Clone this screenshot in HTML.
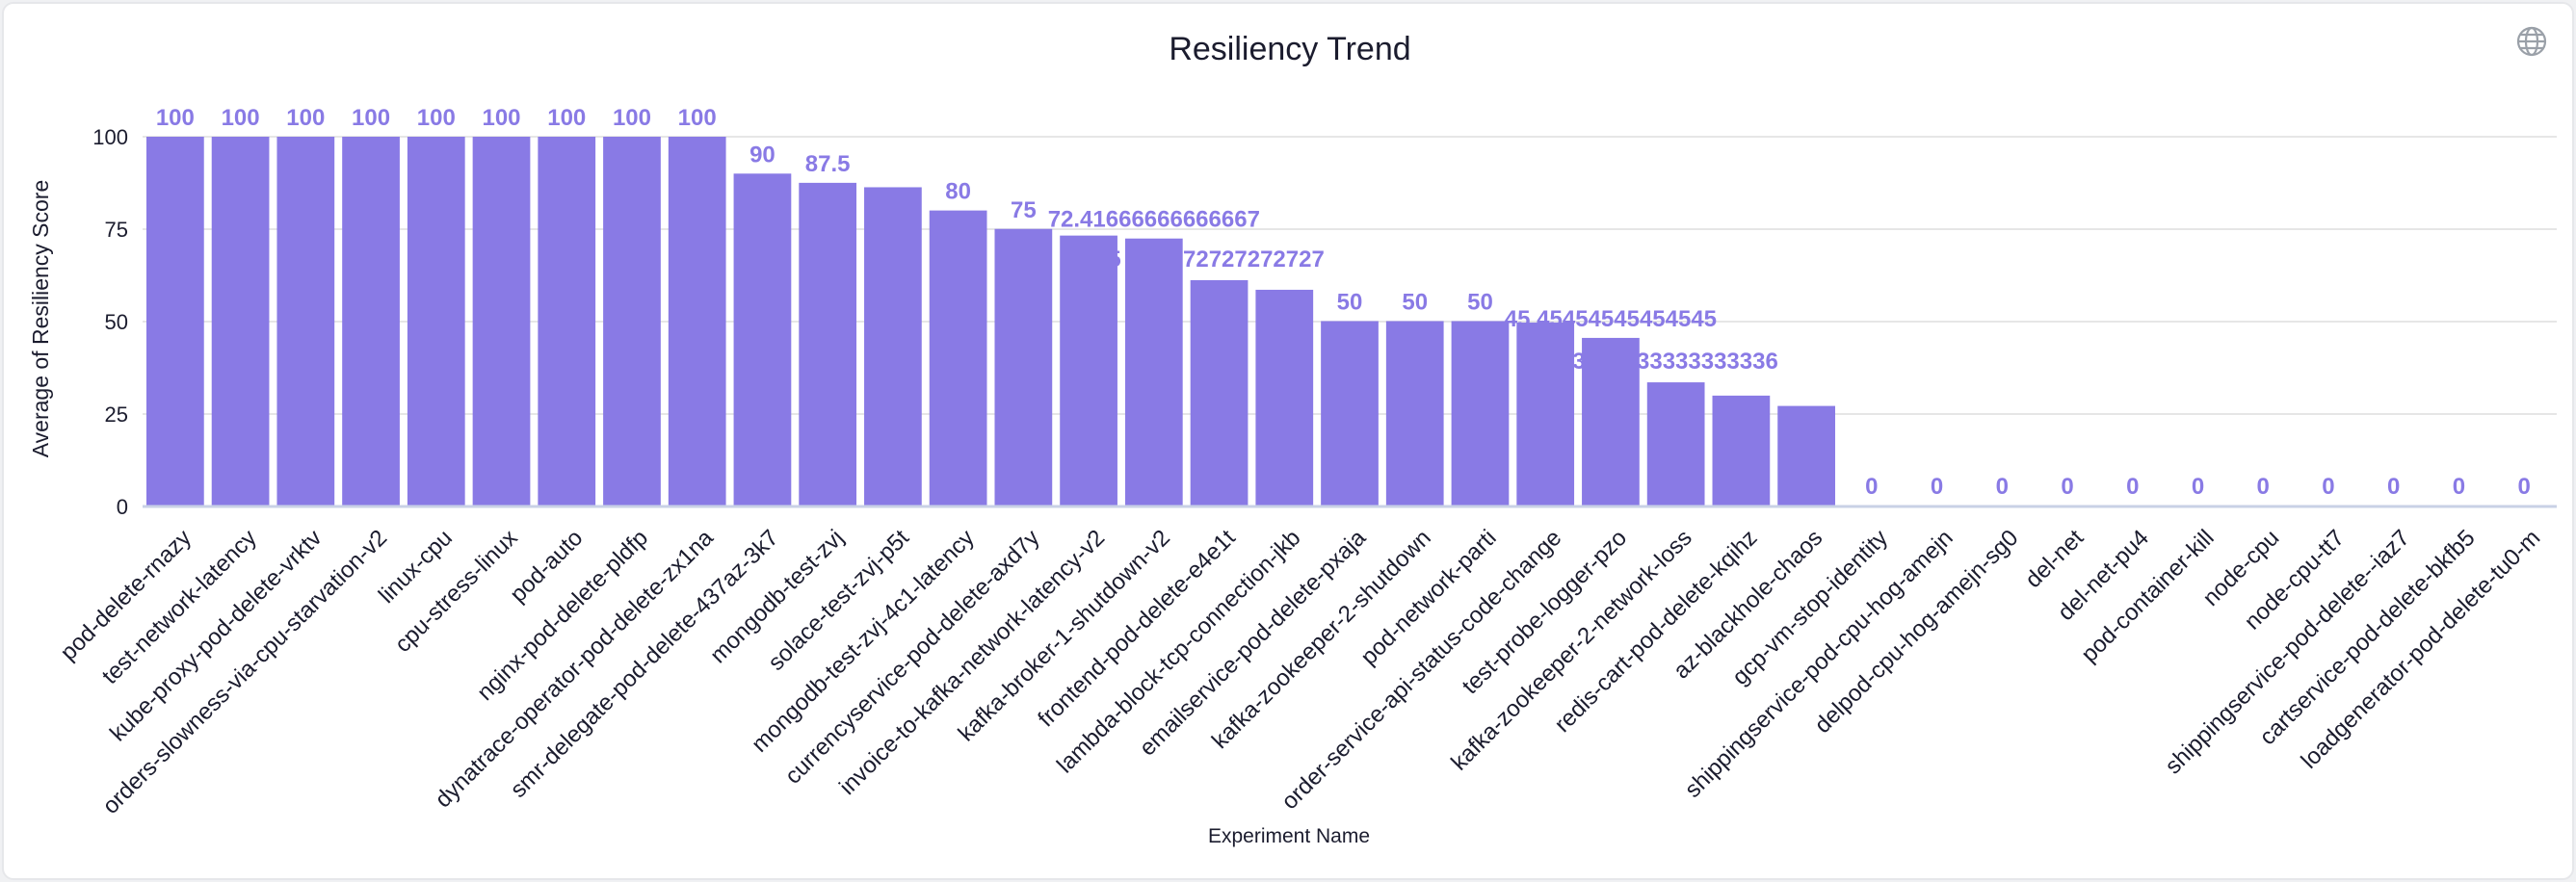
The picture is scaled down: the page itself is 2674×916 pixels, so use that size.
<!DOCTYPE html>
<html><head><meta charset="utf-8"><style>
html,body{margin:0;padding:0;background:#f0f1f3;}
body{width:2674px;height:916px;overflow:hidden;}
.card{position:absolute;left:2px;top:2px;width:2666px;height:908px;background:#fff;border:2px solid #e6e7ea;border-radius:12px;overflow:hidden;}
</style></head><body>
<div class="card">
<svg width="2666" height="908" viewBox="2 2 2666 908" xmlns="http://www.w3.org/2000/svg" font-family="Liberation Sans, sans-serif">
<text x="1337" y="60" text-anchor="middle" font-size="34" fill="#1b1c2e">Resiliency Trend</text>
<g stroke="#9aa0a8" stroke-width="2.2" fill="none"><circle cx="2626" cy="41" r="14"/><ellipse cx="2626" cy="41" rx="6" ry="14"/><line x1="2612" y1="41" x2="2640" y2="41"/><line x1="2614" y1="34" x2="2638" y2="34"/><line x1="2614" y1="48" x2="2638" y2="48"/></g>
<g stroke="#e6e6e6" stroke-width="2"><line x1="146" y1="140" x2="2652" y2="140"/><line x1="146" y1="236" x2="2652" y2="236"/><line x1="146" y1="332" x2="2652" y2="332"/><line x1="146" y1="428" x2="2652" y2="428"/></g>
<g font-size="22" fill="#1b1c2e" text-anchor="end"><text x="131" y="148">100</text><text x="131" y="244">75</text><text x="131" y="340">50</text><text x="131" y="436">25</text><text x="131" y="532">0</text></g>
<text transform="translate(48,329) rotate(-90)" text-anchor="middle" font-size="23" fill="#1b1c2e">Average of Resiliency Score</text>
<text x="1336" y="873" text-anchor="middle" font-size="21" fill="#1b1c2e">Experiment Name</text>
<g font-size="24" font-weight="bold" fill="#897ae5">
<text x="1155" y="275" text-anchor="middle">5</text><text x="1226" y="275">72727272727</text>
<text x="1637" y="381" text-anchor="middle">3</text><text x="1697" y="381">33333333336</text>
</g>
<g id="bars" fill="#897ae5"></g>
<line x1="146" y1="524" x2="2652" y2="524" stroke="#c9d1e6" stroke-width="3"/>
<g id="lbls" font-size="24" font-weight="bold" fill="#897ae5" text-anchor="middle"></g>
<g id="xt" font-size="24" fill="#1b1c2e"></g>
</svg>
</div>
<script>
var names=["pod-delete-rnazy","test-network-latency","kube-proxy-pod-delete-vrktv","orders-slowness-via-cpu-starvation-v2","linux-cpu","cpu-stress-linux","pod-auto","nginx-pod-delete-pldfp","dynatrace-operator-pod-delete-zx1na","smr-delegate-pod-delete-437az-3k7","mongodb-test-zvj","solace-test-zvj-p5t","mongodb-test-zvj-4c1-latency","currencyservice-pod-delete-axd7y","invoice-to-kafka-network-latency-v2","kafka-broker-1-shutdown-v2","frontend-pod-delete-e4e1t","lambda-block-tcp-connection-jkb","emailservice-pod-delete-pxaja","kafka-zookeeper-2-shutdown","pod-network-parti","order-service-api-status-code-change","test-probe-logger-pzo","kafka-zookeeper-2-network-loss","redis-cart-pod-delete-kqihz","az-blackhole-chaos","gcp-vm-stop-identity","shippingservice-pod-cpu-hog-amejn","delpod-cpu-hog-amejn-sg0","del-net","del-net-pu4","pod-container-kill","node-cpu","node-cpu-tt7","shippingservice-pod-delete--iaz7","cartservice-pod-delete-bkfb5","loadgenerator-pod-delete-tu0-m"];
var vals=[100,100,100,100,100,100,100,100,100,90,87.5,86.3,80,75,73.2,72.4,61.1,58.5,50,50,50,49.6,45.45,33.4,29.8,27,0,0,0,0,0,0,0,0,0,0,0];
var labels={0:"100",1:"100",2:"100",3:"100",4:"100",5:"100",6:"100",7:"100",8:"100",9:"90",10:"87.5",12:"80",13:"75",15:"72.41666666666667",18:"50",19:"50",20:"50",22:"45.45454545454545"};
var ns="http://www.w3.org/2000/svg",bw=67.73,x0=146,base=523,k=3.83;
var B=document.getElementById("bars"),L=document.getElementById("lbls"),X=document.getElementById("xt");
function el(t,a,p,txt){var e=document.createElementNS(ns,t);for(var q in a)e.setAttribute(q,a[q]);if(txt!=null)e.textContent=txt;p.appendChild(e);return e;}
for(var i=0;i<37;i++){var x=x0+i*bw,c=x+bw/2,h=vals[i]*k;
if(h>0)el("rect",{x:x+4,y:base-h,width:bw-8,height:h},B);
var lab=labels[i];if(vals[i]==0)lab="0";
if(lab!=null)el("text",{x:c,y:base-h-12},L,lab);
el("text",{transform:"translate("+(c+6)+",546) rotate(-45)","text-anchor":"end","dominant-baseline":"hanging"},X,names[i]);}
</script>
</body></html>
